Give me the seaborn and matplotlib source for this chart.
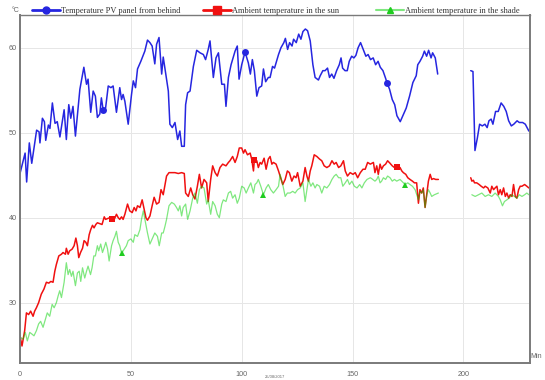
import numpy as np
import matplotlib
matplotlib.use("Agg")
import matplotlib.pyplot as plt
import seaborn as sns
from matplotlib.lines import Line2D

# --- PV panel temperature, measured from behind (minutes, °C) ---
pv_min_1 = [0, 2.3, 3.0, 4.2, 5.3, 7.5, 8.6, 9.0, 10.1, 11.0, 11.6, 12.8, 13.5, 14.6, 15.8, 16.8, 18.0,
            19.9, 20.9, 22.0, 22.9, 23.9, 25.0, 27.0, 28.8, 30.0, 30.7, 31.9, 33.0, 34.0, 34.9, 36.0, 36.7,
            37.5, 38.6, 39.8, 41.0, 42.0, 43.5, 45.0, 45.8, 46.5, 47.3, 48.8, 50.3, 51.1, 52.1, 53.0, 54.5,
            56.3, 57.5, 58.6, 59.6, 60.8, 61.6, 62.7, 63.9, 64.6, 66.9, 67.6, 68.7, 69.9, 71.1, 72.1, 72.9,
            74.1, 74.7, 75.6, 76.7, 78.2, 79.7, 81.2, 82.7, 83.7, 84.9, 85.7, 87.2, 88.4, 89.5, 91.0, 92.2,
            92.9, 94.0, 95.2, 97.0, 98.0, 98.8, 100.0, 101.5, 103.0, 103.9, 104.8, 105.7, 106.8, 107.8,
            109.0, 109.8, 110.8, 112.0, 112.8, 113.9, 114.8, 116.6, 117.7, 119.0, 119.7, 120.7, 121.6,
            122.7, 123.4, 124.6, 125.7, 126.7, 127.6, 128.7, 129.7, 130.9, 132.1, 133.1, 134.6, 135.4,
            136.6, 137.6, 138.7, 139.6, 140.6, 141.6, 142.8, 144.0, 144.8, 145.5, 146.6, 147.6, 148.5,
            149.6, 150.6, 151.5, 152.5, 153.6, 154.8, 156.0, 157.0, 158.1, 159.3, 160.4, 161.5, 162.5,
            163.7, 164.9, 165.5, 166.7, 167.9, 169.0, 170.0, 171.5, 172.7, 174.2, 175.7, 177.2, 178.7,
            179.4, 180.4, 181.6, 182.4, 183.4, 184.3, 185.4, 186.1, 187.3, 188.4]
pv_temp_1 = [45.2, 47.6, 44.2, 48.8, 46.4, 50.3, 50.1, 48.8, 51.7, 51.3, 49.1, 50.9, 50.5, 53.5, 51.1, 51.3, 49.5,
             52.7, 49.2, 53.3, 51.7, 53.1, 49.6, 55.1, 57.7, 55.7, 56.3, 52.4, 54.9, 54.3, 51.8, 52.2, 54.1,
             52.7, 52.9, 55.5, 55.3, 55.5, 52.4, 55.3, 53.9, 54.5, 53.7, 51.0, 54.5, 56.1, 55.3, 57.5, 58.4,
             59.6, 60.9, 60.6, 60.2, 58.1, 60.4, 61.2, 56.9, 58.9, 54.9, 51.0, 50.6, 51.2, 49.2, 50.2, 48.4,
             48.4, 53.3, 54.7, 54.9, 57.8, 59.7, 59.4, 59.2, 58.6, 59.8, 60.8, 56.5, 58.8, 59.4, 55.7, 55.7,
             53.1, 56.5, 58.0, 59.6, 60.2, 56.3, 58.0, 59.5, 58.2, 56.9, 58.6, 57.3, 54.3, 55.3,
             55.5, 57.5, 56.0, 56.5, 56.5, 57.8, 57.6, 59.2, 60.0, 60.6, 61.1, 59.8, 60.6,
             60.2, 61.0, 60.6, 61.6, 61.0, 61.9, 62.2, 62.0, 60.8, 58.0, 56.5, 56.2, 56.7,
             57.3, 57.3, 57.6, 56.5, 56.9, 56.4, 57.3, 58.0, 58.8, 57.6, 57.3, 57.3, 58.4,
             59.0, 58.8, 59.1, 60.0, 60.6, 59.8, 59.0, 59.2, 58.6, 58.8, 58.0, 58.4, 57.7,
             57.3, 56.4, 55.9, 55.1, 53.9, 53.3, 52.0, 51.3, 52.0, 52.9, 54.3, 55.9, 56.7,
             58.0, 58.4, 59.0, 59.6, 59.0, 59.7, 58.8, 59.4, 58.8, 56.9]
pv_min_2 = [203.3, 204.3, 205.2, 206.3, 207.3, 208.5, 209.7, 210.7, 211.5, 212.5, 213.3, 214.5, 215.7,
            217.0, 218.2, 219.3, 220.4, 221.6, 222.7, 224.2, 225.2, 226.7, 227.9, 229.5]
pv_temp_2 = [57.3, 57.2, 47.9, 49.4, 51.0, 50.8, 51.0, 50.6, 51.4, 51.6, 51.0, 52.5, 52.5,
             53.5, 53.1, 52.5, 51.4, 50.8, 51.0, 51.4, 51.2, 51.2, 51.0, 50.2]

# --- Ambient temperature in the sun ---
sun_min_1 = [0, 0.9, 2.1, 2.9, 3.9, 4.8, 5.9, 6.6, 7.4, 8.4, 9.6, 10.8, 11.9, 13.0, 13.9, 14.9, 15.7, 16.4,
             17.5, 18.7, 19.4, 20.5, 20.9, 21.7, 22.4, 23.5, 24.4, 25.2, 25.9, 26.5, 27.3, 28.2, 28.9, 29.7,
             30.4, 31.2, 31.9, 32.7, 33.4, 34.2, 34.9, 36.0, 37.0, 38.0, 38.6, 39.5, 40.5, 41.6, 42.5, 43.5,
             44.3, 45.0, 45.8, 46.5, 47.3, 48.5, 49.5, 50.6, 51.5, 52.3, 53.0, 54.1, 55.1, 56.0, 56.8, 57.5,
             58.6, 59.6, 60.5, 61.6, 62.7, 63.6, 64.6, 66.1, 67.2, 68.4, 69.9, 71.4, 72.9, 74.1, 74.7, 75.9,
             77.0, 77.9, 78.9, 80.0, 80.9, 81.9, 83.0, 84.2, 84.9, 86.0, 86.9, 88.0, 89.0, 90.2, 91.4, 92.9,
             94.0, 94.7, 95.9, 97.0, 98.0, 98.9, 100.0, 100.8, 101.5, 102.6, 103.8, 104.5, 105.3, 105.7,
             106.8, 107.5, 108.3, 109.0, 110.1, 111.0, 112.0, 112.8, 113.6, 114.3, 115.5, 116.6, 117.3,
             118.5, 119.6, 120.6, 121.5, 122.6, 123.6, 124.5, 125.2, 126.4, 127.6, 128.6, 129.4, 130.1,
             130.9, 131.6, 132.7, 133.9, 135.1, 136.1, 137.2, 138.4, 139.6, 140.7, 141.7, 142.6, 143.7,
             144.7, 145.9, 146.7, 147.7, 148.9, 150.2, 151.2, 152.3, 153.5, 154.7, 155.7, 156.8, 158.0,
             159.4, 160.1, 160.9, 161.6, 162.4, 163.1, 163.9, 164.9, 165.8, 166.9, 167.9, 168.9, 169.9,
             170.7, 171.4, 172.2, 172.9, 174.0, 174.9, 175.9, 177.0, 177.9, 178.9, 179.7, 180.4, 181.2,
             181.9, 182.7, 183.5, 184.2, 185.0, 185.7, 186.5, 187.5, 188.7]
sun_temp_1 = [26.1, 24.9, 26.7, 28.8, 28.6, 29.0, 28.4, 29.0, 29.4, 30.0, 31.0, 31.6, 32.4, 32.3, 32.5, 32.4, 33.7, 34.5,
              35.5, 35.7, 35.9, 35.7, 36.4, 35.7, 36.1, 36.3, 36.7, 37.6, 36.7, 35.3, 35.9, 36.4, 37.3, 37.1,
              36.7, 38.0, 38.6, 39.1, 38.8, 39.2, 39.4, 39.3, 39.2, 40.1, 39.8, 39.9, 40.0, 39.9, 39.8, 40.4,
              40.0, 39.8, 40.1, 39.8, 40.4, 41.6, 40.8, 40.6, 41.2, 40.8, 41.4, 41.2, 42.1, 41.0, 40.0, 39.7,
              40.2, 41.4, 42.4, 41.6, 41.8, 43.3, 42.7, 44.9, 45.3, 45.3, 45.3, 45.2, 45.3, 45.2, 42.9, 42.5,
              43.5, 42.7, 42.2, 43.7, 45.1, 43.5, 44.5, 44.1, 41.9, 44.5, 46.1, 45.3, 44.9, 45.9, 46.3, 46.1,
              46.5, 46.7, 47.2, 46.5, 47.2, 48.2, 48.2, 47.6, 48.0, 47.4, 47.6, 46.9, 45.5, 46.8,
              46.7, 45.9, 46.5, 46.3, 47.0, 45.7, 46.9, 47.2, 46.3, 46.5, 46.3, 45.5, 44.9,
              43.9, 44.5, 45.5, 45.3, 44.3, 44.9, 44.7, 45.3, 43.7, 44.3, 45.9, 44.9, 44.3,
              45.5, 46.1, 47.4, 47.2, 46.9, 46.7, 46.1, 45.9, 46.1, 46.7, 46.3, 46.5, 45.9,
              46.1, 46.7, 45.5, 44.9, 45.3, 45.1, 45.3, 44.7, 45.3, 45.7, 45.7, 46.5, 46.3,
              46.5, 45.3, 46.1, 45.1, 46.3, 45.7, 46.1, 46.3, 46.7, 46.4, 46.1, 45.9, 46.0,
              45.7, 45.9, 45.5, 45.3, 45.1, 44.7, 44.5, 44.3, 44.1, 44.1, 41.7, 43.3, 42.9,
              43.5, 41.2, 42.9, 44.3, 45.1, 44.5, 44.6, 44.5, 44.5]
sun_min_2 = [203.3, 203.8, 204.5, 205.0, 206.0, 207.1, 208.0, 209.1, 209.8, 211.0, 212.1, 212.8, 213.6, 214.3,
             215.1, 215.8, 216.6, 217.3, 218.1, 218.9, 219.6, 220.4, 221.1, 221.9, 222.6, 223.4, 224.1,
             224.9, 225.6, 226.4, 227.6, 228.6, 229.5]
sun_temp_2 = [44.7, 44.3, 44.4, 44.1, 44.1, 43.9, 43.7, 43.5, 43.7, 43.5, 42.9, 43.7, 43.3, 43.5,
              43.7, 42.7, 43.3, 42.7, 43.5, 42.5, 42.9, 42.3, 42.7, 42.5, 43.9, 42.5, 42.3,
              43.3, 43.7, 43.7, 43.9, 43.7, 43.5]

# --- Ambient temperature in the shade ---
shade_min_1 = [0.3, 1.4, 2.4, 3.3, 4.4, 5.4, 6.3, 7.4, 8.4, 9.3, 10.4, 11.4, 12.3, 13.4, 14.5, 15.4, 16.4,
               17.2, 17.9, 18.7, 19.9, 20.9, 21.7, 22.4, 23.2, 23.9, 25.0, 25.9, 26.7, 27.4, 28.2, 29.2, 30.0,
               30.7, 31.8, 32.5, 33.3, 34.0, 34.9, 35.5, 36.4, 37.2, 38.0, 38.7, 39.5, 40.2, 41.3, 42.0, 42.8,
               43.5, 44.3, 45.0, 45.8, 47.0, 48.0, 48.8, 50.0, 51.1, 51.8, 53.0, 54.1, 54.8, 55.6, 56.6, 57.5,
               58.6, 59.6, 60.8, 62.0, 62.8, 63.9, 64.6, 65.4, 66.1, 67.2, 68.4, 69.6, 70.6, 71.4, 72.1, 72.9,
               73.6, 74.7, 75.6, 76.7, 77.9, 78.9, 80.0, 80.9, 81.9, 83.0, 84.2, 84.9, 86.0, 86.9, 88.0, 89.0,
               89.9, 91.0, 91.7, 92.9, 94.0, 95.0, 95.9, 97.0, 98.0, 98.9, 100.0, 101.1, 102.0, 103.0, 104.1,
               105.3, 106.0, 106.8, 107.5, 108.6, 109.8, 111.0, 112.0, 113.1, 114.3, 115.5, 116.6, 117.3,
               118.5, 119.6, 120.6, 121.8, 123.0, 124.1, 125.2, 126.4, 127.6, 128.6, 129.4, 130.1, 131.2,
               132.1, 133.1, 133.9, 135.1, 136.1, 137.2, 138.4, 139.6, 140.7, 141.7, 142.6, 143.7, 144.7,
               145.6, 146.7, 147.7, 148.6, 149.7, 150.8, 152.0, 153.2, 154.2, 155.3, 156.5, 158.0, 158.6,
               160.1, 160.9, 161.6, 162.4, 163.1, 163.9, 164.9, 165.8, 166.9, 167.9, 168.9, 169.9, 171.4,
               172.9, 173.7, 174.9, 175.9, 177.0, 178.2, 179.7, 180.4, 181.2, 181.9, 182.7, 183.5, 184.2,
               185.0, 185.7, 186.9, 188.7]
shade_temp_1 = [25.9, 25.7, 26.5, 25.5, 26.5, 26.3, 26.1, 26.7, 27.5, 27.8, 27.1, 28.0, 28.8, 28.4, 29.8, 29.4, 30.0,
                30.8, 31.4, 30.6, 32.4, 34.7, 33.3, 33.9, 33.1, 33.7, 32.0, 33.5, 33.7, 32.5, 34.1, 32.9, 33.7,
                34.3, 33.3, 34.1, 35.5, 35.5, 36.7, 36.1, 36.9, 35.9, 36.5, 37.1, 36.3, 34.9, 36.7, 37.3, 37.8,
                38.4, 37.1, 36.7, 35.8, 36.3, 36.7, 37.3, 37.5, 37.1, 38.0, 37.8, 38.6, 39.8, 40.8, 39.4, 38.2,
                36.9, 37.5, 38.2, 37.8, 36.7, 38.2, 38.2, 39.0, 39.8, 41.4, 41.8, 41.6, 41.2, 40.8, 41.4, 40.2,
                41.2, 41.6, 39.8, 40.8, 42.3, 42.9, 41.7, 43.3, 43.7, 43.5, 41.6, 42.1, 40.4, 41.9, 41.4, 40.4,
                40.0, 41.6, 42.1, 41.9, 42.9, 43.1, 42.3, 42.7, 41.7, 42.3, 43.7, 43.5, 42.9, 43.5, 44.1,
                42.9, 43.9, 44.1, 44.5, 43.7, 42.7, 43.5, 43.9, 43.3, 42.9, 43.3, 43.7, 45.1,
                43.9, 42.5, 42.9, 42.9, 43.1, 42.9, 43.3, 43.5, 44.1, 41.9, 43.3, 44.5, 43.7,
                44.1, 43.5, 43.9, 43.7, 42.9, 43.7, 43.5, 43.9, 44.5, 44.9, 45.1, 44.7, 44.7,
                43.7, 44.1, 44.5, 43.9, 44.3, 43.7, 43.5, 43.9, 43.5, 44.1, 44.5, 44.7, 44.6,
                44.3, 44.5, 44.9, 44.1, 44.3, 44.7, 44.5, 44.9, 44.7, 44.3, 44.5, 44.3, 44.5,
                44.1, 43.9, 44.1, 43.9, 43.7, 43.3, 42.1, 43.1, 42.9, 43.3, 41.2, 42.7, 43.3,
                42.9, 42.5, 42.7, 42.9]
shade_min_2 = [203.8, 205.3, 206.8, 208.3, 209.8, 211.3, 212.8, 214.3, 215.8, 216.6, 217.6, 218.5, 219.6,
               220.6, 221.8, 223.0, 224.1, 225.2, 226.4, 227.6, 228.6, 229.5]
shade_temp_2 = [42.7, 42.5, 42.7, 42.9, 42.5, 42.7, 42.5, 42.9, 42.5, 42.1, 41.4, 41.9, 42.1,
                42.3, 42.7, 42.5, 42.3, 42.7, 42.5, 42.7, 42.9, 42.7]

# minutes at which each series carries a point marker
pv_marks = [37.5, 101.5, 165.5]
sun_marks = [41.6, 105.7, 169.9]
shade_marks = [45.8, 109.8, 173.7]

series_labels = ["Temperature PV panel from behind",
                 "Ambient temperature in the sun",
                 "Ambient temperature in the shade"]
x_ticks = [0, 50, 100, 150, 200]
y_ticks = [30, 40, 50, 60]
date_label = "25/08/2017"

sns.set_style("white")
plt.rcParams["font.family"] = ["Liberation Sans", "DejaVu Sans"]

W, H = 545, 380
fig = plt.figure(figsize=(W / 100, H / 100), dpi=100)
ax = fig.add_axes([20 / W, 1 - 363 / H, (529.5 - 20) / W, (363 - 15) / H])

BLUE = "#2626e0"
RED = "#f01010"
GREEN_LINE = (0.0, 0.82, 0.0, 0.5)
GREEN_MARK = "#1fcc1f"


def draw(mins, temps, marks, color, face, marker, ms, lw):
    mins = np.asarray(mins, dtype=float)
    idx = [int(np.argmin(np.abs(mins - m))) for m in marks
           if mins.min() - 1 <= m <= mins.max() + 1]
    sns.lineplot(x=mins, y=temps, ax=ax, estimator=None, sort=False, legend=False,
                 color=face, lw=lw, marker=marker, markevery=idx, ms=ms,
                 mfc=face, mec=face, mew=0)
    ax.lines[-1].set_color(color)


for mins, temps in ((pv_min_1, pv_temp_1), (pv_min_2, pv_temp_2)):
    draw(mins, temps, pv_marks, BLUE, BLUE, "o", 5.0, 1.1)
for mins, temps in ((sun_min_1, sun_temp_1), (sun_min_2, sun_temp_2)):
    draw(mins, temps, sun_marks, RED, RED, "s", 5.0, 1.1)
for mins, temps in ((shade_min_1, shade_temp_1), (shade_min_2, shade_temp_2)):
    draw(mins, temps, shade_marks, GREEN_LINE, GREEN_MARK, "^", 4.5, 0.9)

ax.set_xlim(0, 229.8)
ax.set_ylim(22.9, 63.85)
ax.set_xticks(x_ticks)
ax.set_yticks(y_ticks)
ax.set_xlabel("")
ax.set_ylabel("")
ax.grid(True, color="#e6e6e6", lw=0.7)
ax.set_axisbelow(True)
ax.tick_params(length=0, labelsize=5.2, colors="#666666")
ax.tick_params(axis="x", pad=5.5)
ax.tick_params(axis="y", pad=2.2)
for side in ("left", "bottom", "right"):
    ax.spines[side].set_color("#7a7a7a")
    ax.spines[side].set_linewidth(1.4)
ax.spines["top"].set_color("#7a7a7a")
ax.spines["top"].set_linewidth(1.0)

# legend entries spread along the top edge
handles = [
    Line2D([], [], color=BLUE, lw=2.0, marker="o", ms=5, mfc=BLUE, mec=BLUE),
    Line2D([], [], color=RED, lw=2.0, marker="s", ms=5.5, mfc=RED, mec=RED),
    Line2D([], [], color=GREEN_LINE, lw=1.5, marker="^", ms=4.5, mfc=GREEN_MARK, mec=GREEN_MARK),
]
for h, lab, x0 in zip(handles, series_labels, (32, 203, 376)):
    leg = fig.legend(handles=[h], labels=[lab], loc="center left",
                     bbox_to_anchor=(x0 / W, 1 - 11 / H), frameon=False,
                     borderpad=0, borderaxespad=0, handlelength=3.3, handletextpad=0.2,
                     prop={"family": "Liberation Serif", "size": 6})
    for t in leg.get_texts():
        t.set_color("#333333")

fig.text(16 / W, 1 - 10 / H, "°C", fontsize=5, color="#666666", ha="center", va="center")
fig.text(542 / W, 1 - 357 / H, "Min", fontsize=5, color="#666666", ha="right", va="center")
fig.text(275 / W, 1 - 377.5 / H, date_label, fontsize=3, color="#666666", ha="center", va="center")

fig.savefig("out.png", dpi=100)
